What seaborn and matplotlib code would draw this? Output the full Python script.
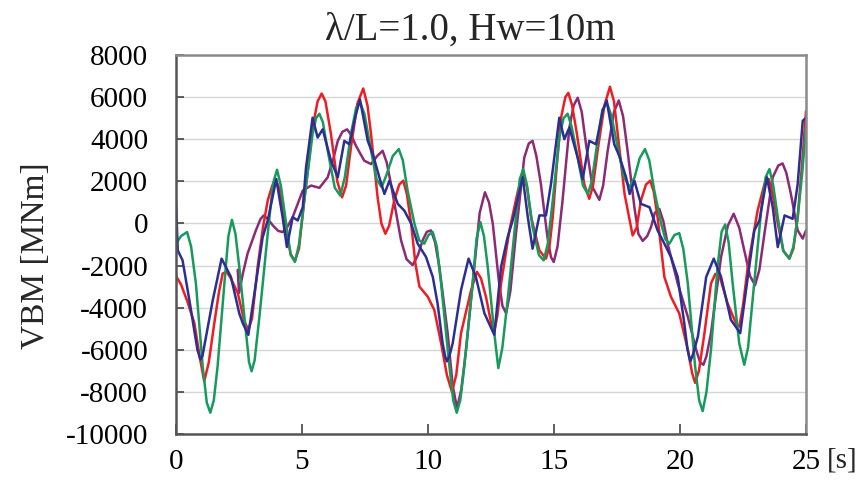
import numpy as np
import pandas as pd
import matplotlib
matplotlib.use("Agg")
import matplotlib.pyplot as plt
import seaborn as sns

# ---- data: (time [s], VBM [thousand MNm]) ----
red_points = [
    (0, -2.5), (0.2, -2.9), (0.45, -3.7), (0.73, -4.74), (0.95, -6.4), (1.12, -7.5), (1.3, -6.6),
    (1.52, -4.74), (1.7, -3.3), (1.85, -2.38), (2.0, -2.3), (2.15, -2.55), (2.45, -3.3), (2.7, -4.6),
    (2.87, -5.06), (3.02, -4.5), (3.24, -2.06), (3.45, -0.2), (3.64, 1.09), (3.82, 1.8), (3.97, 2.03),
    (4.12, 1.6), (4.37, -0.33), (4.55, -1.45), (4.72, -1.78), (4.88, -1.2), (5.09, 1.09), (5.42, 4.55),
    (5.62, 5.8), (5.78, 6.17), (5.93, 5.8), (6.15, 4.24), (6.4, 2.0), (6.59, 1.24), (6.75, 1.8),
    (6.94, 3.6), (7.2, 5.7), (7.43, 6.41), (7.6, 5.6), (7.74, 4.24), (8.0, 1.24), (8.15, 0.0),
    (8.31, -0.49), (8.46, -0.1), (8.66, 1.09), (8.86, 1.85), (9.02, 2.03), (9.16, 1.4), (9.33, 0),
    (9.5, -1.9), (9.66, -3.0), (9.99, -3.48), (10.25, -4.11), (10.52, -5.69), (10.75, -7.2),
    (10.95, -8.0), (11.12, -7.2), (11.31, -5.21), (11.71, -3.17), (11.94, -2.3), (12.1, -2.6),
    (12.3, -3.48), (12.5, -4.7), (12.63, -5.13), (12.75, -4.4), (12.9, -2.85), (13.23, -0.33),
    (13.57, 1.56), (13.78, 2.35), (13.93, 1.7), (14.09, 0.3), (14.42, -1.28), (14.68, -1.67),
    (14.82, -1.1), (14.95, 0.3), (15.1, 2.6), (15.28, 5.02), (15.45, 6.0), (15.57, 6.2), (15.72, 5.6),
    (15.91, 4.24), (16.2, 1.87), (16.4, 1.17), (16.55, 1.8), (16.73, 3.45), (17.0, 5.6), (17.22, 6.49),
    (17.38, 5.8), (17.53, 4.24), (17.8, 1.4), (18.12, -0.57), (18.28, -0.2), (18.45, 1.09),
    (18.65, 1.85), (18.82, 2.03), (18.96, 1.5), (19.11, 0.3), (19.38, -2.54), (19.64, -3.48),
    (19.97, -4.27), (20.31, -6.0), (20.48, -7.1), (20.6, -7.57), (20.75, -7.0), (20.97, -5.21),
    (21.23, -2.85), (21.4, -2.4), (21.56, -2.46), (21.89, -3.8), (22.22, -4.74), (22.35, -4.9),
    (22.5, -3.9), (22.69, -2.06), (23.08, 0.61), (23.35, 1.87), (23.52, 2.11), (23.68, 1.4),
    (23.88, 0), (24.1, -1.3), (24.34, -1.67), (24.5, -1.2), (24.67, 0.3), (24.85, 2.9), (25.0, 5.34),
]

green_points = [
    (0, -0.96), (0.2, -0.6), (0.44, -0.41), (0.6, -1.1), (0.79, -2.85), (1.06, -6.79), (1.22, -8.5),
    (1.36, -8.99), (1.5, -8.4), (1.65, -6.79), (1.92, -2.85), (2.08, -0.6), (2.22, 0.17), (2.36, -0.5),
    (2.51, -2.06), (2.78, -5.21), (2.9, -6.6), (3.0, -7.02), (3.12, -6.5), (3.31, -4.43), (3.64, -0.49),
    (3.85, 1.9), (4.01, 2.55), (4.16, 1.8), (4.37, 0), (4.55, -1.5), (4.72, -1.83), (4.88, -1.0),
    (5.09, 1.09), (5.42, 4.24), (5.56, 5.0), (5.69, 5.21), (5.83, 4.8), (6.02, 3.45), (6.3, 1.7),
    (6.52, 1.32), (6.7, 2.2), (6.94, 4.24), (7.15, 5.5), (7.31, 5.73), (7.48, 5.2), (7.74, 3.45),
    (7.96, 2.1), (8.16, 1.72), (8.35, 2.3), (8.6, 3.2), (8.84, 3.53), (9.0, 3.0), (9.19, 1.56),
    (9.46, 0), (9.65, -0.8), (9.85, -0.96), (10.02, -0.55), (10.19, -0.41), (10.35, -1.1),
    (10.52, -2.85), (10.85, -6.79), (11.0, -8.4), (11.14, -8.99), (11.28, -8.4), (11.44, -6.79),
    (11.77, -2.85), (11.93, -0.7), (12.08, 0.06), (12.22, -0.6), (12.37, -2.06), (12.63, -5.21),
    (12.79, -6.87), (12.95, -5.9), (13.16, -3.64), (13.49, 0.3), (13.64, 2.1), (13.78, 2.58),
    (13.93, 1.8), (14.15, -0.17), (14.4, -1.5), (14.59, -1.75), (14.75, -1.0), (14.95, 1.09),
    (15.21, 4.08), (15.38, 5.0), (15.54, 5.21), (15.7, 4.6), (15.94, 3.13), (16.15, 1.8), (16.34, 1.4),
    (16.5, 2.0), (16.73, 3.92), (16.92, 5.4), (17.1, 5.73), (17.28, 5.1), (17.53, 3.6), (17.78, 2.2),
    (18.0, 1.72), (18.2, 2.2), (18.4, 3.1), (18.61, 3.53), (18.78, 3.0), (18.98, 1.56), (19.25, 0),
    (19.42, -0.75), (19.58, -0.96), (19.78, -0.55), (19.97, -0.46), (20.13, -1.2), (20.31, -2.85),
    (20.6, -6.79), (20.76, -8.4), (20.9, -8.91), (21.05, -8.0), (21.23, -6.0), (21.49, -2.06),
    (21.65, -0.4), (21.79, -0.05), (21.93, -0.9), (22.09, -2.85), (22.35, -5.69), (22.55, -6.71),
    (22.7, -5.9), (22.88, -3.64), (23.22, 0.61), (23.4, 2.2), (23.55, 2.58), (23.7, 1.8), (23.88, 0.3),
    (24.1, -1.3), (24.34, -1.67), (24.5, -1.1), (24.67, 0.3), (24.85, 2.4), (25.0, 4.55),
]

blue_points = [
    (0, 1.09), (0.07, -1.28), (0.26, -1.75), (0.53, -3.64), (0.85, -6.0), (0.97, -6.47), (1.05, -6.3),
    (1.12, -5.84), (1.46, -3.64), (1.81, -1.67), (2.18, -2.54), (2.51, -4.27), (2.65, -4.74),
    (2.87, -5.29), (3.17, -2.85), (3.44, -0.65), (3.64, 0.14), (3.98, 2.11), (4.23, 0.3), (4.4, -1.12),
    (4.63, 0.3), (4.83, 0.14), (5.03, 0.77), (5.16, 2.66), (5.42, 5.02), (5.62, 4.08), (5.82, 4.47),
    (6.15, 2.98), (6.42, 2.19), (6.68, 3.92), (6.88, 3.76), (7.14, 5.18), (7.3, 5.89), (7.61, 3.92),
    (7.81, 3.29), (8.07, 2.19), (8.27, 1.4), (8.47, 2.03), (8.8, 0.93), (9.06, 0.61), (9.33, 0.0),
    (9.59, -0.96), (9.92, -1.59), (10.19, -2.54), (10.38, -3.8), (10.58, -5.69), (10.68, -6.3),
    (10.75, -6.55), (10.85, -6.3), (10.98, -5.69), (11.31, -3.17), (11.61, -1.67), (11.9, -2.54),
    (12.24, -4.27), (12.63, -5.29), (12.9, -2.06), (13.16, -0.65), (13.36, 0.14), (13.76, 2.19),
    (13.96, 0.3), (14.15, -1.2), (14.42, 0.38), (14.68, 0.38), (14.88, 1.87), (15.21, 5.02),
    (15.41, 4.0), (15.61, 4.55), (15.94, 3.13), (16.14, 2.11), (16.4, 3.92), (16.67, 3.76),
    (16.93, 5.34), (17.09, 5.84), (17.39, 3.76), (17.59, 3.21), (17.86, 2.19), (18.0, 1.4),
    (18.19, 2.03), (18.45, 0.93), (18.79, 0.77), (19.11, -0.33), (19.38, -0.96), (19.64, -1.59),
    (19.91, -2.54), (20.17, -4.74), (20.3, -6.0), (20.41, -6.55), (20.52, -6.2), (20.71, -5.37),
    (21.04, -2.54), (21.34, -1.67), (21.63, -2.54), (22.02, -4.58), (22.39, -5.21), (22.69, -2.54),
    (22.95, -0.33), (23.15, 0.14), (23.45, 2.19), (23.68, 0.77), (23.88, -1.12), (24.15, 0.38),
    (24.47, 0.22), (24.67, 1.87), (24.87, 4.87), (25.0, 5.02),
]

purple_points = [
    (2.45, -2.2), (2.5, -3.3), (2.65, -2.4), (2.84, -1.43), (3.17, -0.33), (3.35, 0.2), (3.48, 0.38),
    (3.65, 0.2), (3.84, -0.09), (4.05, -0.35), (4.23, -0.41), (4.4, -0.2), (4.63, 0.3), (5.03, 1.56),
    (5.36, 1.8), (5.69, 1.69), (6.02, 2.19), (6.25, 3.1), (6.42, 3.92), (6.6, 4.35), (6.79, 4.47),
    (6.95, 4.2), (7.14, 3.69), (7.47, 2.98), (7.74, 2.82), (7.98, 3.2), (8.2, 3.45), (8.36, 2.9),
    (8.53, 1.87), (8.93, -0.8), (9.15, -1.7), (9.39, -1.98), (9.6, -1.5), (9.79, -0.8), (9.95, -0.4),
    (10.12, -0.33), (10.28, -0.9), (10.45, -2.06), (10.78, -5.21), (10.98, -7.7), (11.15, -8.76),
    (11.32, -7.9), (11.51, -6.0), (11.84, -2.06), (12.05, 0.5), (12.26, 1.48), (12.42, 1.0),
    (12.57, 0), (12.8, -2.6), (12.95, -3.9), (13.1, -4.27), (13.27, -3.2), (13.49, -0.49),
    (13.82, 3.13), (14.0, 3.8), (14.15, 3.92), (14.3, 3.2), (14.48, 1.87), (14.74, -0.65),
    (14.88, -1.6), (14.99, -1.83), (15.14, -1.1), (15.34, 1.09), (15.61, 4.55), (15.78, 5.6),
    (15.94, 5.97), (16.1, 5.3), (16.27, 3.76), (16.53, 1.72), (16.8, 1.12), (16.95, 1.8), (17.13, 3.45),
    (17.38, 5.3), (17.57, 5.84), (17.74, 5.1), (17.92, 3.45), (18.19, 0.77), (18.35, -0.5),
    (18.52, -0.83), (18.7, -0.6), (18.85, -0.17), (19.0, 0.5), (19.18, 0.69), (19.34, 0.1),
    (19.51, -0.96), (19.91, -2.85), (20.31, -4.43), (20.64, -6.0), (20.8, -6.6), (20.93, -6.71),
    (21.05, -6.3), (21.23, -5.21), (21.63, -1.59), (21.9, -0.1), (22.13, 0.46), (22.35, -0.2),
    (22.55, -1.28), (22.78, -2.5), (22.98, -2.93), (23.15, -2.2), (23.35, -0.49), (23.68, 2.19),
    (23.9, 2.75), (24.07, 2.85), (24.22, 2.4), (24.4, 1.4), (24.67, -0.33), (24.87, -0.72), (25.0, -0.33),
]

x_ticks = [0, 5, 10, 15, 20, 25]
y_ticks = [-10000, -8000, -6000, -4000, -2000, 0, 2000, 4000, 6000, 8000]
title = "λ/L=1.0, Hw=10m"
ylabel = "VBM [MNm]"
xunit = "[s]"

series = {"purple": purple_points, "red": red_points, "green": green_points, "blue": blue_points}
frames = []
for name, pts in series.items():
    arr = np.array(pts, dtype=float)
    frames.append(pd.DataFrame({"t": arr[:, 0], "v": arr[:, 1] * 1000.0, "series": name}))
df = pd.concat(frames, ignore_index=True)

palette = {"red": "#ee1d23", "green": "#179a5c", "blue": "#2b2f91", "purple": "#8c2b73"}

sns.set_theme(style="white")
plt.rcParams["font.family"] = ["Liberation Serif", "DejaVu Serif"]

fig = plt.figure(figsize=(8.68, 4.83), dpi=100)
ax = fig.add_axes([176 / 868, 1 - 434 / 483, (806 - 176) / 868, (434 - 55) / 483])

sns.lineplot(data=df, x="t", y="v", hue="series", hue_order=list(series.keys()),
             palette=palette, estimator=None, sort=False, legend=False,
             linewidth=1.8, ax=ax)

ax.set_xlim(0, 25)
ax.set_ylim(-10000, 8000)
ax.set_xticks(x_ticks)
ax.set_yticks(y_ticks)
ax.set_xticklabels([str(v) for v in x_ticks], fontsize=21)
ax.set_yticklabels([str(v) for v in y_ticks], fontsize=21)
ax.set_xlabel("")
ax.set_ylabel("")
ax.yaxis.grid(True, color="#d6d6d6", linewidth=1.0)
ax.xaxis.grid(False)
ax.set_axisbelow(True)
for s in ax.spines.values():
    s.set_color("#8a8a8a")
    s.set_linewidth(1.8)
ax.spines["left"].set_color("#555555")
ax.spines["bottom"].set_color("#555555")
ax.tick_params(axis="x", direction="in", length=7, width=1.2, color="#444444", pad=11,
               labelcolor="black", bottom=True)
ax.tick_params(axis="y", direction="in", length=6, width=1.2, color="#444444", pad=20,
               labelcolor="black", left=True)

fig.text(470 / 868, 1 - 30 / 483, title, ha="center", va="center", fontsize=28)
fig.text(36 / 868, 1 - 256 / 483, ylabel, ha="center", va="center", rotation=90, fontsize=24)
fig.text(842 / 868, 1 - 460 / 483, xunit, ha="center", va="center", fontsize=21)

fig.savefig("out.png", dpi=100)
